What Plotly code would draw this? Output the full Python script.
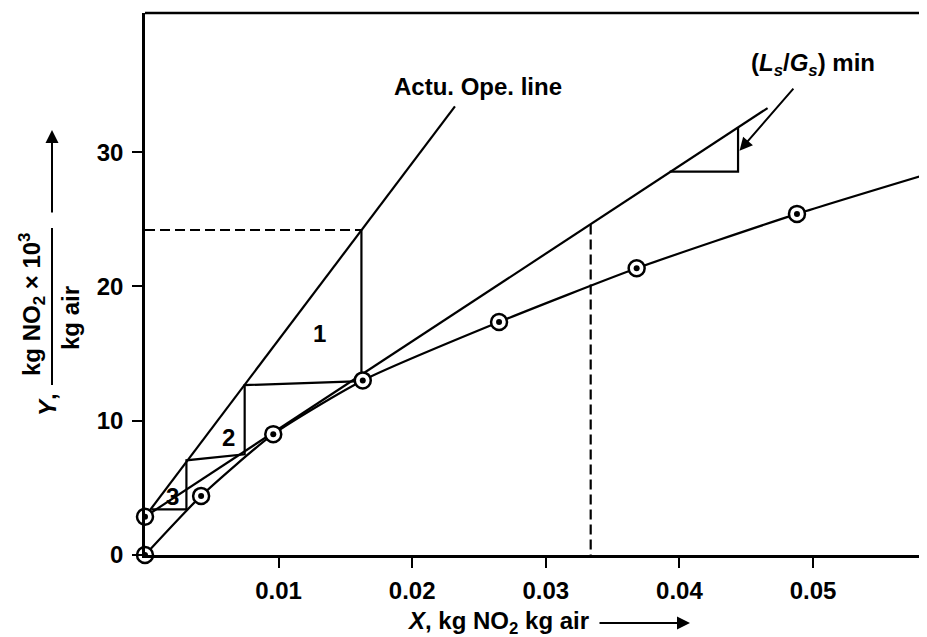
import plotly.graph_objects as go

# ---------------- data (X in kg NO2/kg gel, Y in kg NO2/kg air x 10^3) -------------
eq_x = [0.0, 0.0042, 0.0096, 0.0163, 0.0265, 0.0368, 0.0488, 0.0580]
eq_y = [0.0, 4.4, 9.0, 13.0, 17.35, 21.35, 25.4, 28.2]
pt_x = [0.0, 0.0, 0.0042, 0.0096, 0.0163, 0.0265, 0.0368, 0.0488]
pt_y = [0.0, 2.85, 4.4, 9.0, 13.0, 17.35, 21.35, 25.4]

act_op_x = [0.0, 0.0232]
act_op_y = [2.85, 33.4]
min_op_x = [0.0, 0.0466]
min_op_y = [2.85, 33.28]

step_x = [0.0162, 0.0162, 0.00746, 0.00746, 0.0031, 0.0031, 0.0005]
step_y = [24.2, 12.95, 12.65, 7.5, 7.05, 3.4, 3.4]

pinch_x = [0.03927, 0.04439, 0.04439]
pinch_y = [28.55, 28.55, 31.85]

dash_h_x = [0.0, 0.0162]
dash_h_y = [24.2, 24.2]
dash_v_x = [0.03336, 0.03336]
dash_v_y = [24.6, 0.0]

stage_labels = ["1", "2", "3"]
stage_x = [0.01308, 0.00628, 0.00205]
stage_y = [16.5, 8.78, 4.34]

x_ticks = [0.01, 0.02, 0.03, 0.04, 0.05]
x_ticktext = ["0.01", "0.02", "0.03", "0.04", "0.05"]
y_ticks = [0, 10, 20, 30]
y_ticktext = ["0", "10", "20", "30"]

# ---------------- figure -------------
OFF = 8  # page body margin
W, H = 927 - OFF, 637 - OFF
# plot area in screen pixels: left 145, top 13, bottom 555, right 922
L, T = 145 - OFF, 13 - OFF
R = W - (922 - OFF)
B = H - (555 - OFF)
PW, PH = W - L - R, H - T - B
FONT = "Liberation Sans, Arial, Helvetica, sans-serif"
FS = 24


def px(sx):
    return (sx - 145) / PW


def py(sy):
    return (555 - sy) / PH


fig = go.Figure()
lw = 2.2
fig.add_trace(go.Scatter(x=eq_x, y=eq_y, mode="lines", line=dict(color="black", width=lw, shape="spline", smoothing=0.6), hoverinfo="skip"))
fig.add_trace(go.Scatter(x=act_op_x, y=act_op_y, mode="lines", line=dict(color="black", width=lw), hoverinfo="skip"))
fig.add_trace(go.Scatter(x=min_op_x, y=min_op_y, mode="lines", line=dict(color="black", width=lw), hoverinfo="skip"))
fig.add_trace(go.Scatter(x=step_x, y=step_y, mode="lines", line=dict(color="black", width=lw), hoverinfo="skip"))
fig.add_trace(go.Scatter(x=pinch_x, y=pinch_y, mode="lines", line=dict(color="black", width=lw), hoverinfo="skip"))
fig.add_trace(go.Scatter(x=dash_h_x, y=dash_h_y, mode="lines", line=dict(color="black", width=lw, dash="10px,5px"), hoverinfo="skip"))
fig.add_trace(go.Scatter(x=dash_v_x, y=dash_v_y, mode="lines", line=dict(color="black", width=lw, dash="10px,5px"), hoverinfo="skip"))
fig.add_trace(go.Scatter(x=pt_x, y=pt_y, mode="markers", cliponaxis=False,
                         marker=dict(symbol="circle", size=16, color="white", line=dict(color="black", width=2.5)), hoverinfo="skip"))
fig.add_trace(go.Scatter(x=pt_x, y=pt_y, mode="markers", cliponaxis=False,
                         marker=dict(symbol="circle", size=6, color="black"), hoverinfo="skip"))

ann = []
bold = dict(size=FS, family=FONT, weight="bold")
for t, x, y in zip(stage_labels, stage_x, stage_y):
    ann.append(dict(x=x, y=y, xref="x", yref="y", text=t, showarrow=False, font=bold))
ann.append(dict(x=0.0249, y=34.85, xref="x", yref="y", text="Actu. Ope. line", showarrow=False, font=bold))
ann.append(dict(x=0.04998, y=36.49, xref="x", yref="y", text="(<i>L<sub>s</sub></i>/<i>G<sub>s</sub></i>) min",
                showarrow=False, font=bold))
# pointer arrow
ann.append(dict(x=0.0445, y=30.1, xref="x", yref="y", ax=0.04863, ay=34.84, axref="x", ayref="y",
                text="", showarrow=True, arrowhead=2, arrowsize=1.3, arrowwidth=2, arrowcolor="black"))
# x title
ann.append(dict(x=px(498), y=py(622), xref="paper", yref="paper", xanchor="center", yanchor="middle",
                text="<i>X</i>, kg NO<sub>2</sub> kg air", showarrow=False, font=bold))
ann.append(dict(x=px(690), y=py(623), xref="paper", yref="paper", ax=-92, ay=0, text="", showarrow=True,
                arrowhead=2, arrowsize=1.3, arrowwidth=2, arrowcolor="black"))
# y title pieces
ann.append(dict(x=px(32), y=py(305), xref="paper", yref="paper", xanchor="center", yanchor="middle",
                text="kg NO<sub>2</sub> × 10<sup>3</sup>", textangle=-90, showarrow=False, font=bold))
ann.append(dict(x=px(70), y=py(318), xref="paper", yref="paper", xanchor="center", yanchor="middle",
                text="kg air", textangle=-90, showarrow=False, font=bold))
ann.append(dict(x=px(47), y=py(405), xref="paper", yref="paper", xanchor="center", yanchor="middle",
                text="<i>Y</i>,", textangle=-90, showarrow=False, font=bold))
ann.append(dict(x=px(52), y=py(130), xref="paper", yref="paper", ax=0, ay=84, text="", showarrow=True,
                arrowhead=2, arrowsize=1.3, arrowwidth=2, arrowcolor="black"))

shapes = [
    dict(type="line", xref="paper", yref="paper", x0=px(52), x1=px(52), y0=py(228), y1=py(385),
         line=dict(color="black", width=2)),
    dict(type="line", xref="paper", yref="paper", x0=0, x1=1, y0=1, y1=1, line=dict(color="black", width=2.5)),
]

fig.update_layout(
    width=W, height=H, margin=dict(l=L, r=R, t=T, b=B, autoexpand=False),
    paper_bgcolor="white", plot_bgcolor="white", showlegend=False,
    font=dict(family=FONT, size=FS, color="black"),
    annotations=ann, shapes=shapes,
)
fig.update_xaxes(range=[0, PW / 13360.0], tickvals=x_ticks, ticktext=x_ticktext, showline=True, linecolor="black",
                 linewidth=2.5, ticks="outside", ticklen=10, tickwidth=2, tickcolor="black", showgrid=False,
                 zeroline=False, tickfont=bold, ticklabelstandoff=2)
fig.update_yaxes(range=[0, PH / 13.43], tickvals=y_ticks, ticktext=y_ticktext, showline=True, linecolor="black",
                 linewidth=2.5, ticks="outside", ticklen=10, tickwidth=2, tickcolor="black", showgrid=False,
                 zeroline=False, tickfont=bold, ticklabelstandoff=4)

fig.write_html("out.html")
